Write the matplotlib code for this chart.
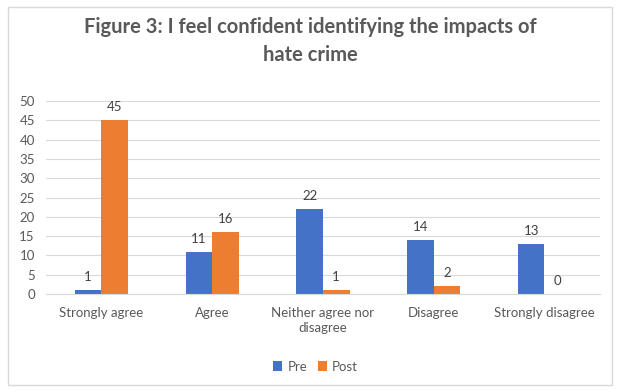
import matplotlib.pyplot as plt
import numpy as np
from matplotlib.patches import Rectangle

plt.rcParams["font.family"] = ["Lato", "DejaVu Sans"]

categories = ["Strongly agree", "Agree", "Neither agree nor\ndisagree",
              "Disagree", "Strongly disagree"]
pre = [1, 11, 22, 14, 13]
post = [45, 16, 1, 2, 0]

blue = "#4472C4"
orange = "#ED7D31"
grey = "#595959"

fig = plt.figure(figsize=(6.21, 3.9), dpi=100)
ax = fig.add_axes([0.074, 0.246, 0.892, 0.495])

x = np.arange(len(categories))
w = 0.24
b1 = ax.bar(x - w / 2, pre, w, color=blue, label="Pre", zorder=2)
b2 = ax.bar(x + w / 2, post, w, color=orange, label="Post", zorder=2)

for bars in (b1, b2):
    for r in bars:
        ax.annotate(f"{int(r.get_height())}",
                    (r.get_x() + r.get_width() / 2, r.get_height()),
                    xytext=(0, 5), textcoords="offset points",
                    ha="center", va="bottom", fontsize=9.5, color="#404040")

ax.set_xlim(-0.5, len(categories) - 0.5)
ax.set_ylim(0, 50)
ax.set_yticks(range(0, 51, 5))
ax.yaxis.grid(True, color="#D9D9D9", lw=0.8, zorder=0)
ax.set_xticks(x)
ax.set_xticklabels(categories, fontsize=9.5, color=grey, linespacing=1.3)
ax.tick_params(axis="y", labelsize=9.5, labelcolor=grey, length=0, pad=8)
ax.tick_params(axis="x", length=0, pad=9)
for s in ["left", "top", "right"]:
    ax.spines[s].set_visible(False)
ax.spines["bottom"].set_color("#D9D9D9")

fig.text(0.5, 0.895, "Figure 3: I feel confident identifying the impacts of\nhate crime",
         ha="center", va="center", fontsize=14.5, fontweight="bold",
         color=grey, linespacing=1.45)

fig.legend(handles=[b1, b2], loc="center", bbox_to_anchor=(0.508, 0.06),
           ncol=2, frameon=False, fontsize=9.5, handlelength=0.7,
           handleheight=0.7, handletextpad=0.4, columnspacing=0.8,
           labelcolor=grey)

fig.patches.append(Rectangle((8 / 621, 5 / 390), 604 / 621, 378 / 390,
                             transform=fig.transFigure, fill=False,
                             edgecolor="#D9D9D9", lw=1))

fig.savefig("out.png", dpi=100)
